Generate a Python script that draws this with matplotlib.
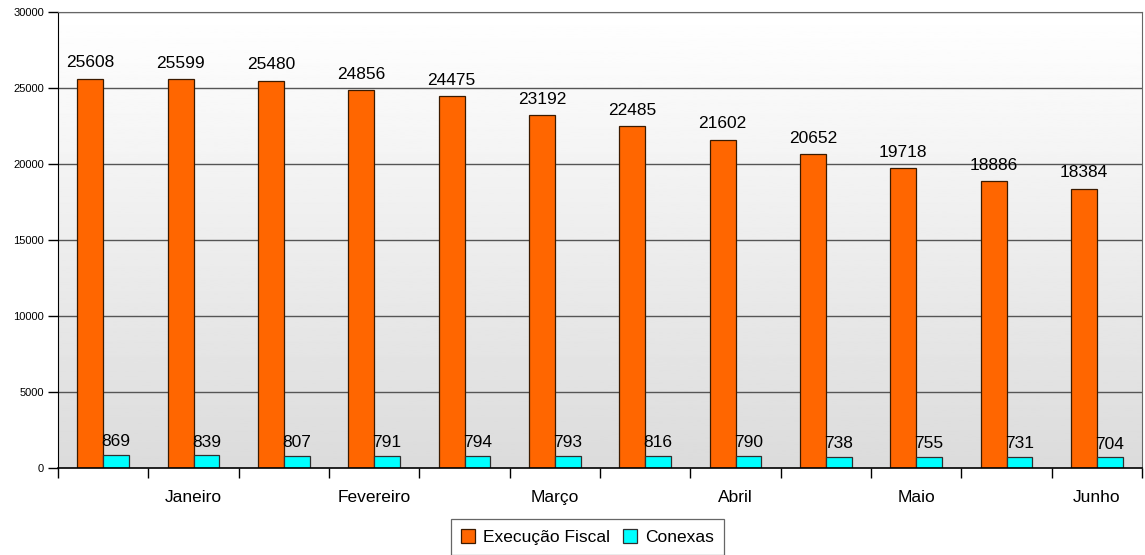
import matplotlib.pyplot as plt
import numpy as np

plt.rcParams['font.family'] = ['Liberation Sans', 'DejaVu Sans']

# Processos por quinzena (dois períodos por mês)
meses = ["Janeiro", "Fevereiro", "Março", "Abril", "Maio", "Junho"]
execucao_fiscal = [25608, 25599, 25480, 24856, 24475, 23192,
                   22485, 21602, 20652, 19718, 18886, 18384]
conexas = [869, 839, 807, 791, 794, 793, 816, 790, 738, 755, 731, 704]
rotulos = []
for m in meses:
    rotulos += ["", m]

n = len(execucao_fiscal)
centros = np.arange(n) + 0.5
largura = 0.285

fig = plt.figure(figsize=(11.45, 5.55), dpi=100)
ax = fig.add_axes([0.0507, 0.1568, 0.9467, 0.8216])

# fundo em degradê (branco em cima, cinza embaixo)
grad = np.linspace(1.0, 0.86, 256).reshape(-1, 1)
ax.imshow(grad, cmap='gray', vmin=0, vmax=1, aspect='auto',
          extent=[0, n, 0, 30000], origin='upper', zorder=0)

for y in range(5000, 30001, 5000):
    ax.axhline(y, color='#555555', lw=1, zorder=1)

b1 = ax.bar(centros - largura / 2, execucao_fiscal, largura, color='#FF6600',
            edgecolor='#3a1a00', linewidth=0.9, label='Execução Fiscal', zorder=2)
b2 = ax.bar(centros + largura / 2, conexas, largura, color='#00FFFF',
            edgecolor='#303030', linewidth=0.9, label='Conexas', zorder=2)

for barras, desloc in ((b1, 6), (b2, 4)):
    for b in barras:
        ax.annotate(f"{int(b.get_height())}",
                    (b.get_x() + b.get_width() / 2, b.get_height()),
                    xytext=(0, desloc), textcoords='offset points',
                    ha='center', va='bottom', fontsize=12.5, zorder=3)

ax.set_xlim(0, n)
ax.set_ylim(0, 30000)
ax.set_yticks(range(0, 30001, 5000))
ax.tick_params(axis='y', length=7, width=1, pad=3, labelsize=8)

ax.set_xticks(np.arange(n + 1))
ax.set_xticklabels([])
ax.tick_params(axis='x', which='major', length=7, width=1, direction='out')
ax.set_xticks(centros, minor=True)
ax.set_xticklabels(rotulos, minor=True, fontsize=12.5)
ax.tick_params(axis='x', which='minor', length=0, pad=16)

for lado in ('top', 'right'):
    ax.spines[lado].set_color('#666666')
ax.spines['left'].set_color('black')
ax.spines['bottom'].set_color('black')
ax.spines['bottom'].set_linewidth(1.2)

# legenda: a caixa continua abaixo da borda da figura
leg = fig.legend(handles=[b1, b2], loc='upper center',
                 bbox_to_anchor=(0.513, 0.0649), ncol=2, fontsize=12.5,
                 frameon=True, fancybox=False, edgecolor='#404040',
                 handlelength=0.8, handleheight=0.8, handletextpad=0.45,
                 columnspacing=0.75, borderpad=0.6, borderaxespad=0)
leg.get_frame().set_linewidth(0.9)

fig.savefig('out.png', dpi=100)
